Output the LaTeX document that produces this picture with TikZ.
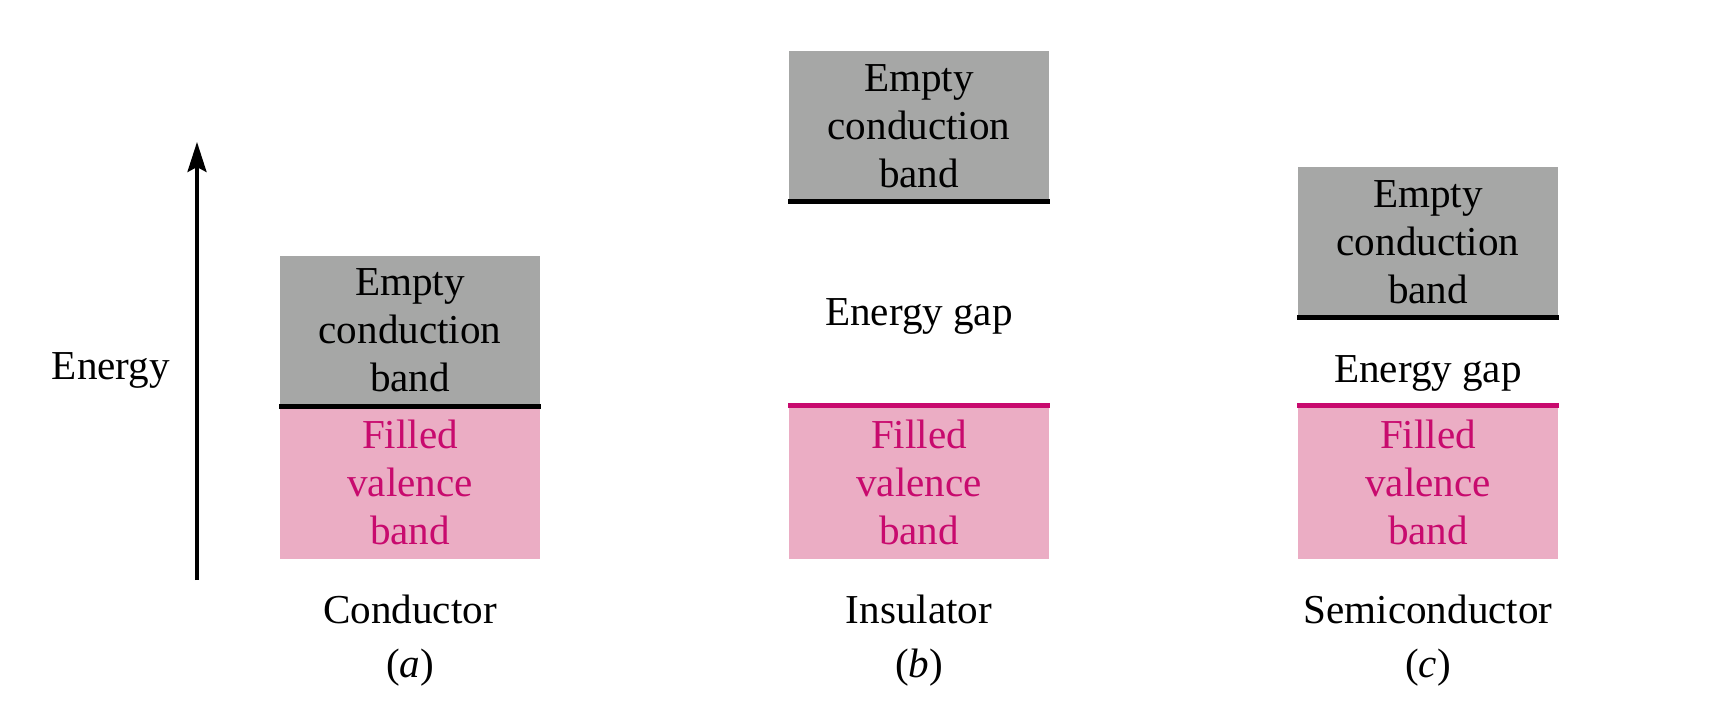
\documentclass[tikz,border=0pt]{standalone}
\usepackage{fontspec}
\setmainfont{Liberation Serif}
\usepackage{tikz}
\usetikzlibrary{arrows.meta}
\definecolor{bandgray}{RGB}{166,167,166}
\definecolor{bandpink}{RGB}{235,173,196}
\definecolor{bandmag}{RGB}{200,10,110}

\begin{document}
\begin{tikzpicture}[
    every node/.style={font=\fontsize{11.7}{13.6}\selectfont},
    emptyband/.style={fill=bandgray, minimum width=2.6cm, minimum height=1.5cm, inner sep=0pt, align=center},
    filledband/.style={fill=bandpink, text=bandmag, minimum width=2.6cm, minimum height=1.53cm, inner sep=0pt, align=center},
    bandedge/.style={line width=1.4pt}
  ]
  \useasboundingbox (0,0) rectangle (17.22,7.12);
  % energy axis
  \coordinate (axisbot) at (1.97,1.32);
  \coordinate (axistop) at (1.97,5.70);
  \draw[line width=1pt,-{Stealth[length=3mm,width=1.9mm,inset=0.5mm]}] (axisbot) -- (axistop);
  \node[anchor=base] (energy) at (1.11,3.33) {Energy};
  % filled valence bands
  \foreach \x/\n in {4.10/a,9.19/b,14.28/c} {
    \node[filledband] (val\n) at (\x,2.295) {Filled\\valence\\band};
  }
  \draw[bandedge,bandmag] (valb.north west) -- (valb.north east);
  \draw[bandedge,bandmag] (valc.north west) -- (valc.north east);
  % empty conduction bands
  \foreach \x/\y/\n in {4.10/3.815/a,9.19/5.86/b,14.28/4.70/c} {
    \node[emptyband] (cond\n) at (\x,\y) {Empty\\conduction\\band};
    \draw[bandedge,black] (cond\n.south west) -- (cond\n.south east);
  }
  % gaps
  \node[anchor=base] (gapb) at (9.19,3.87) {Energy gap};
  \node[anchor=base] (gapc) at (14.28,3.30) {Energy gap};
  % captions
  \foreach \x/\n/\t in {4.10/a/Conductor,9.19/b/Insulator,14.28/c/Semiconductor} {
    \node[anchor=base] (name\n) at (\x,0.89) {\t};
    \node[anchor=base] (cap\n) at (\x,0.35) {(\textit{\n})};
  }
\end{tikzpicture}
\end{document}
